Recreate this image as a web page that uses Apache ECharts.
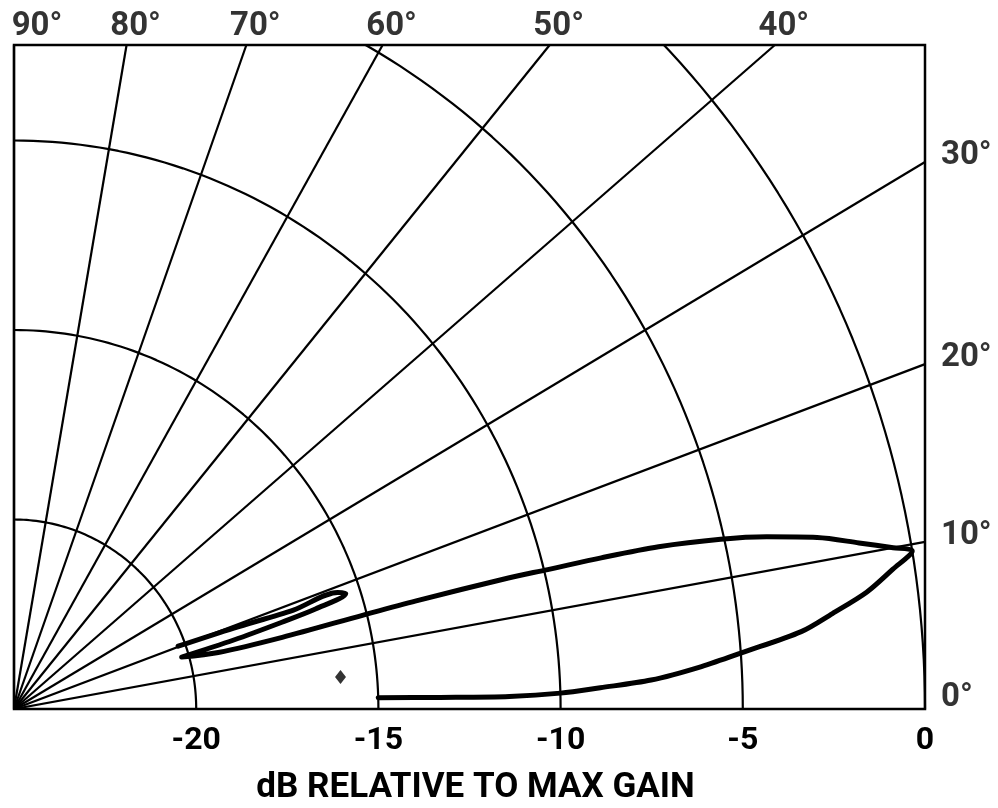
<!DOCTYPE html>
<html>
<head>
<meta charset="utf-8">
<script src="https://cdn.jsdelivr.net/npm/echarts@6/dist/echarts.min.js"></script>
<style>
html,body{margin:0;padding:0;background:#fff;}
#chart{width:998px;height:808px;}
</style>
</head>
<body>
<div id="chart"></div>
<script>
// ---- scales ----
const dbMin = -25;                       // centre of the polar plot
const dbTicks = [-20, -15, -10, -5, 0];  // range circles
const dbLabels = ['-20', '-15', '-10', '-5', '0'];
const angleTicks = [0, 10, 20, 30, 40, 50, 60, 70, 80, 90];
const angleLabels = ['0°', '10°', '20°', '30°', '40°', '50°', '60°', '70°', '80°', '90°'];
const axisTitle = 'dB RELATIVE TO MAX GAIN';

// ---- measured pattern trace (elevation angle in degrees, dB relative to max gain) ----
const traceAngle = [1.7, 1.5, 1.4, 1.6, 2.0, 2.5, 3.4, 4.3, 5.4, 6.4, 7.5, 8.7, 9.6,
                    10.0, 10.7, 11.6, 12.4, 13.0, 13.6, 13.9, 14.1, 14.3, 14.5, 14.5, 14.4, 14.9, 16.6,
                    16.8, 17.3, 17.7, 18.5, 19.1, 18.8, 19.5, 20.2];
const traceDb    = [-15.0, -13.3, -11.4, -10.0, -8.9, -7.5, -6.1, -4.9, -3.3, -2.4, -1.4, -0.6, 0.0,
                    -0.5, -1.4, -2.5, -3.85, -5.1, -6.8, -8.4, -9.9, -11.0, -13.6, -15.1, -17.4, -19.2, -20.2,
                    -18.7, -17.3, -16.3, -15.4, -15.6, -16.9, -18.6, -20.2];
const spotAngle = [5.4];
const spotDb = [-16.0];

// ---- layout ----
const yMax = 17.52;   // vertical extent of the frame, in radius units
const FONT = 'Roboto, "Liberation Sans", sans-serif';
const INK = '#000';

function toXY(angleDeg, db) {
  const r = db - dbMin;
  const a = angleDeg * Math.PI / 180;
  return [dbMin + r * Math.cos(a), r * Math.sin(a)];
}
function frameRadius(angleDeg) {
  const a = angleDeg * Math.PI / 180;
  const rx = Math.cos(a) > 1e-9 ? (0 - dbMin) / Math.cos(a) : Infinity;
  const ry = Math.sin(a) > 1e-9 ? yMax / Math.sin(a) : Infinity;
  return Math.min(rx, ry);
}

const series = [];
const thin = { color: INK, width: 2.2 };

// range circles
dbTicks.forEach(function (db) {
  const pts = [];
  for (let a = 0; a <= 90; a += 1) pts.push(toXY(a, db));
  series.push({ type: 'line', data: pts, showSymbol: false, silent: true, clip: true,
                lineStyle: thin, z: 2 });
});

// angle spokes
const labelPts = [];
angleTicks.forEach(function (ang, i) {
  const rEnd = frameRadius(ang);
  const end = toXY(ang, dbMin + rEnd);
  series.push({ type: 'line', data: [toXY(ang, dbMin), end], showSymbol: false, silent: true,
                clip: true, lineStyle: thin, z: 2 });
  const onTop = end[1] >= yMax - 1e-6 && ang > 35;
  labelPts.push({
    name: angleLabels[i],
    value: end,
    label: onTop
      ? { offset: [ang === 90 ? 23 : 9, -18], align: 'center' }
      : { offset: [16, ang === 0 ? -11 : -6], align: 'left' }
  });
});

series.push({
  type: 'scatter', data: labelPts, symbolSize: 0, silent: true, clip: false, z: 5,
  label: { show: true, position: 'inside', verticalAlign: 'middle', color: INK,
           fontFamily: FONT, fontWeight: 'bold', fontSize: 33,
           formatter: function (p) { return p.name; } }
});

// pattern trace
series.push({
  type: 'line', name: 'pattern', data: traceAngle.map(function (a, i) { return toXY(a, traceDb[i]); }),
  showSymbol: false, smooth: 0.3, clip: true, z: 4,
  lineStyle: { color: INK, width: 5, cap: 'round', join: 'round' }
});
series.push({
  type: 'scatter', data: spotAngle.map(function (a, i) { return toXY(a, spotDb[i]); }),
  symbol: 'diamond', symbolSize: [11, 14], itemStyle: { color: INK }, z: 4, silent: true
});

const chart = echarts.init(document.getElementById('chart'), null, { renderer: 'canvas' });
chart.setOption({
  animation: false,
  backgroundColor: '#fff',
  grid: { left: 14, right: 73, top: 45, bottom: 99, show: true, borderColor: INK, borderWidth: 2.5,
          backgroundColor: 'transparent', containLabel: false, outerBoundsMode: 'none' },
  xAxis: {
    type: 'value', min: dbMin, max: 0, interval: 5,
    axisLine: { show: false }, axisTick: { show: false }, splitLine: { show: false },
    axisLabel: {
      color: INK, fontFamily: FONT, fontWeight: 'bold', fontSize: 32, margin: 16,
      formatter: function (v) { const i = dbTicks.indexOf(v); return i < 0 ? '' : dbLabels[i]; }
    },
    name: axisTitle, nameLocation: 'middle', nameGap: 62,
    nameTextStyle: { color: INK, fontFamily: FONT, fontWeight: 'bold', fontSize: 35, padding: [0, 0, 0, 12] }
  },
  yAxis: { type: 'value', min: 0, max: yMax, show: false, splitLine: { show: false } },
  series: series
});
</script>
</body>
</html>
